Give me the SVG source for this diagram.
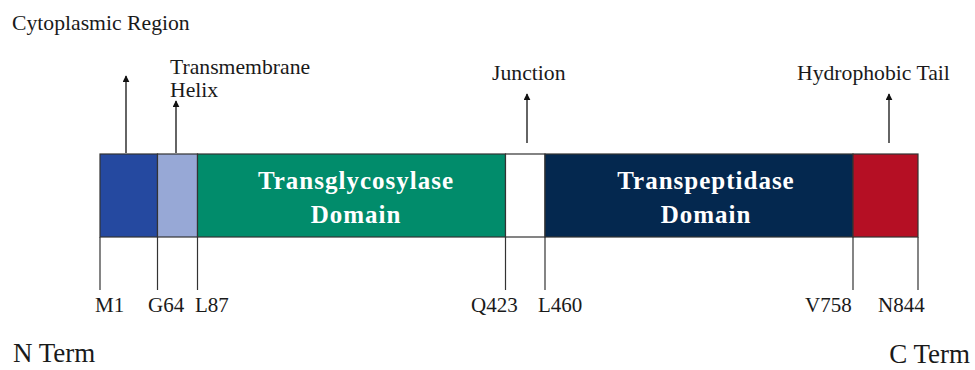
<svg xmlns="http://www.w3.org/2000/svg" width="975" height="370" viewBox="0 0 975 370">
<defs>
<style>
.t{font-family:"Liberation Serif","Times New Roman",serif;fill:#1a1a1a;font-size:21px}
.top{font-size:21.7px}
.term{font-size:27px}
.d{font-family:"Liberation Serif","Times New Roman",serif;fill:#fff;font-size:25px;font-weight:bold;text-anchor:middle;letter-spacing:1px}
.seg{stroke:#333;stroke-width:1.2}
.tick{stroke:#333;stroke-width:1.2}
.arr{stroke:#111;stroke-width:1.3;marker-end:url(#ah)}
</style>
<marker id="ah" viewBox="0 0 10 10" refX="9" refY="5" markerWidth="7" markerHeight="7" orient="auto" markerUnits="userSpaceOnUse">
<path d="M0,0 L10,5 L0,10 z" fill="#111"/>
</marker>
</defs>
<rect width="975" height="370" fill="#fff"/>
<g id="cytoplasmic"><rect class="seg" x="100" y="154" width="57.5" height="83" fill="#2549A0"/></g>
<g id="transmembrane"><rect class="seg" x="157.5" y="154" width="40" height="83" fill="#97A8D6"/></g>
<g id="transglycosylase"><rect class="seg" x="197.5" y="154" width="308" height="83" fill="#018C6B"/>
<text class="d" x="356" y="189">Transglycosylase</text><text class="d" x="356" y="223">Domain</text></g>
<g id="junction"><rect class="seg" x="505.5" y="154" width="39.5" height="83" fill="#fff"/></g>
<g id="transpeptidase"><rect class="seg" x="545" y="154" width="308" height="83" fill="#04284F"/>
<text class="d" x="706" y="189">Transpeptidase</text><text class="d" x="706" y="223">Domain</text></g>
<g id="tail"><rect class="seg" x="853" y="154" width="65" height="83" fill="#B50F24"/></g>
<g id="connectors">
<line class="arr" x1="126" y1="153" x2="126" y2="76"/>
<line class="arr" x1="176" y1="153" x2="176" y2="101"/>
<line class="arr" x1="527" y1="143" x2="527" y2="94"/>
<line class="arr" x1="889" y1="143" x2="889" y2="94"/>
<line class="tick" x1="100" y1="237" x2="100" y2="290"/>
<line class="tick" x1="157.5" y1="237" x2="157.5" y2="290"/>
<line class="tick" x1="197.5" y1="237" x2="197.5" y2="290"/>
<line class="tick" x1="505.5" y1="237" x2="505.5" y2="290"/>
<line class="tick" x1="545" y1="237" x2="545" y2="290"/>
<line class="tick" x1="853" y1="237" x2="853" y2="290"/>
<line class="tick" x1="918" y1="237" x2="918" y2="290"/>
</g>
<g id="labels">
<text class="t top" x="12" y="30">Cytoplasmic Region</text>
<text class="t top" x="170" y="74">Transmembrane</text>
<text class="t top" x="170" y="97">Helix</text>
<text class="t top" x="492" y="80">Junction</text>
<text class="t top" x="797" y="80">Hydrophobic Tail</text>
<text class="t" x="95" y="312">M1</text>
<text class="t" x="148" y="312">G64</text>
<text class="t" x="195" y="312">L87</text>
<text class="t" x="471" y="312">Q423</text>
<text class="t" x="538" y="312">L460</text>
<text class="t" x="805" y="312">V758</text>
<text class="t" x="878" y="312">N844</text>
<text class="t term" x="13" y="362">N Term</text>
<text class="t term" x="970" y="363" text-anchor="end">C Term</text>
</g>
</svg>
